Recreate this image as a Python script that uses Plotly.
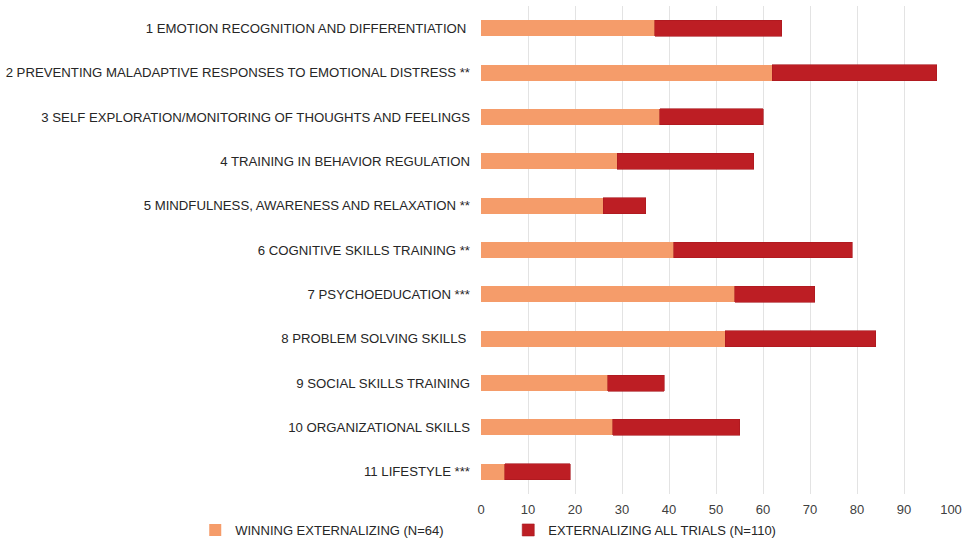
import plotly.graph_objects as go

categories = [
    "1 EMOTION RECOGNITION AND DIFFERENTIATION ",
    "2 PREVENTING MALADAPTIVE RESPONSES TO EMOTIONAL DISTRESS **",
    "3 SELF EXPLORATION/MONITORING OF THOUGHTS AND FEELINGS",
    "4 TRAINING IN BEHAVIOR REGULATION",
    "5 MINDFULNESS, AWARENESS AND RELAXATION **",
    "6 COGNITIVE SKILLS TRAINING **",
    "7 PSYCHOEDUCATION ***",
    "8 PROBLEM SOLVING SKILLS ",
    "9 SOCIAL SKILLS TRAINING",
    "10 ORGANIZATIONAL SKILLS",
    "11 LIFESTYLE ***",
]
winning = [37, 62, 38, 29, 26, 41, 54, 52, 27, 28, 5]
all_trials = [27, 35, 22, 29, 9, 38, 17, 32, 12, 27, 14]
x_ticks = [0, 10, 20, 30, 40, 50, 60, 70, 80, 90, 100]

FONT = "Arial, 'Liberation Sans', sans-serif"

fig = go.Figure()
fig.add_trace(go.Bar(
    y=categories, x=winning, orientation="h",
    name="WINNING EXTERNALIZING (N=64)",
    marker=dict(color="#F59C6A", line=dict(width=0)),
))
fig.add_trace(go.Bar(
    y=categories, x=all_trials, orientation="h",
    name="EXTERNALIZING ALL TRIALS (N=110)",
    marker=dict(color="#BD1E24", line=dict(color="#A8181E", width=0.6)),
))

fig.update_layout(
    barmode="stack",
    bargap=0.64,
    width=965, height=542,
    margin=dict(l=481, r=14, t=6, b=48, autoexpand=False),
    paper_bgcolor="white", plot_bgcolor="white",
    font=dict(family=FONT, size=13.2, color="#262626"),
    showlegend=True,
    legend=dict(
        orientation="h", x=-0.608, xanchor="left", y=-0.0738, yanchor="middle",
        font=dict(size=13, color="#262626"), entrywidth=268, itemwidth=30,
        traceorder="normal", bgcolor="rgba(0,0,0,0)",
    ),
    xaxis=dict(
        range=[0, 100], tickvals=x_ticks, ticktext=[str(v) for v in x_ticks],
        showgrid=True, gridcolor="#E3E3E3", gridwidth=1,
        zeroline=False, showline=False, ticks="", automargin=False,
        ticklabelstandoff=6, ticklabeloverflow="allow",
        tickfont=dict(size=13, color="#404040"),
    ),
    yaxis=dict(
        range=[10.5, -0.5], showgrid=False, zeroline=False, showline=False,
        ticks="", ticklabelstandoff=10, automargin=False,
        tickfont=dict(size=13.2, color="#262626"),
    ),
)

# remove the browser's default 8px body margin so the figure fills the window exactly
fig.write_html(
    "out.html",
    config={"displayModeBar": False},
    post_script="document.body.style.margin='0';document.body.style.overflow='hidden';",
)
